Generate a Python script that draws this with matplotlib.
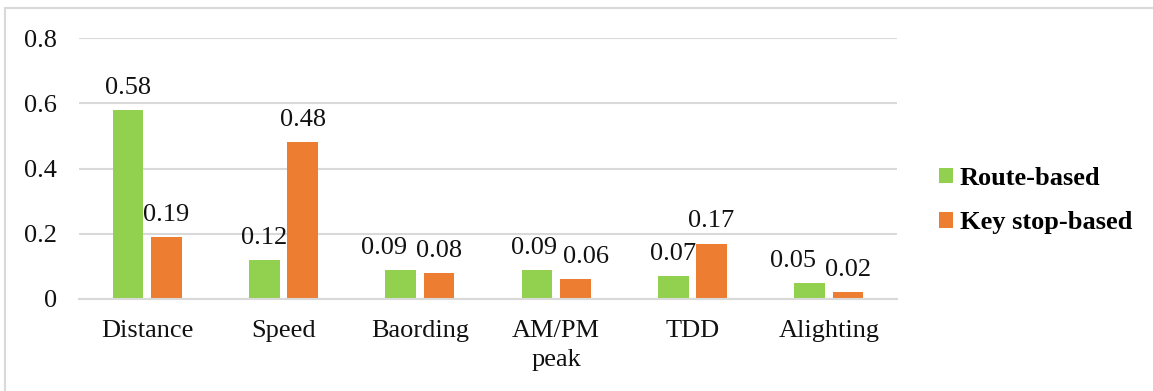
import matplotlib.pyplot as plt
import numpy as np
from matplotlib.lines import Line2D

plt.rcParams['font.family'] = ['Liberation Serif', 'DejaVu Serif']

categories = ["Distance", "Speed", "Baording", "AM/PM\npeak", "TDD", "Alighting"]
route_based = [0.58, 0.12, 0.09, 0.09, 0.07, 0.05]
key_stop_based = [0.19, 0.48, 0.08, 0.06, 0.17, 0.02]
y_ticks = [0, 0.2, 0.4, 0.6, 0.8]

green = "#92D050"
orange = "#ED7D31"
grid_color = "#D9D9D9"
fs = 19

fig = plt.figure(figsize=(11.53, 3.91), dpi=100)
ax = fig.add_axes([0.0685, 0.2353, 0.7095, 0.6675])

x = np.arange(len(categories))
w = 0.225
b1 = ax.bar(x - 0.14, route_based, w, color=green, label="Route-based")
b2 = ax.bar(x + 0.14, key_stop_based, w, color=orange, label="Key stop-based")

# nudge a few labels sideways so neighbouring values don't collide
route_shift = [0, 0, -12, -2, 0, -12]
stop_shift = [0, 0, 0, 8, 0, 0]
for bars, vals, shifts in ((b1, route_based, route_shift),
                           (b2, key_stop_based, stop_shift)):
    for bar, v, dx in zip(bars, vals, shifts):
        ax.annotate(f"{v:.2f}", (bar.get_x() + bar.get_width() / 2, v),
                    xytext=(dx, 8), textcoords="offset points",
                    ha="center", va="bottom", fontsize=fs, color="#111111")

ax.set_xlim(-0.5, len(categories) - 0.5)
ax.set_ylim(0, 0.8)
ax.set_yticks(y_ticks)
ax.set_yticklabels(["0", "0.2", "0.4", "0.6", "0.8"])
ax.set_xticks(x)
ax.set_xticklabels(categories, linespacing=1.4)
ax.tick_params(axis="both", length=0, colors="#111111", labelsize=fs)
ax.tick_params(axis="y", pad=16)
ax.tick_params(axis="x", pad=15)
ax.grid(axis="y", color=grid_color, linewidth=1.5)
ax.set_axisbelow(True)
for s in ("top", "right", "left"):
    ax.spines[s].set_visible(False)
ax.spines["bottom"].set_color(grid_color)
ax.spines["bottom"].set_linewidth(1.5)

leg = fig.legend(handles=[b1, b2], loc="center left",
                 bbox_to_anchor=(0.794, 0.487), frameon=False,
                 prop={"weight": "bold", "size": fs},
                 handlelength=0.53, handleheight=0.53, handletextpad=0.25,
                 labelspacing=0.8)

# outer frame (top and left edges)
fig.add_artist(Line2D([0.0043, 1.0], [0.9795, 0.9795], color=grid_color,
                      linewidth=1.5, transform=fig.transFigure))
fig.add_artist(Line2D([0.0043, 0.0043], [0.0, 0.9795], color=grid_color,
                      linewidth=1.5, transform=fig.transFigure))

fig.savefig("out.png", dpi=100)
